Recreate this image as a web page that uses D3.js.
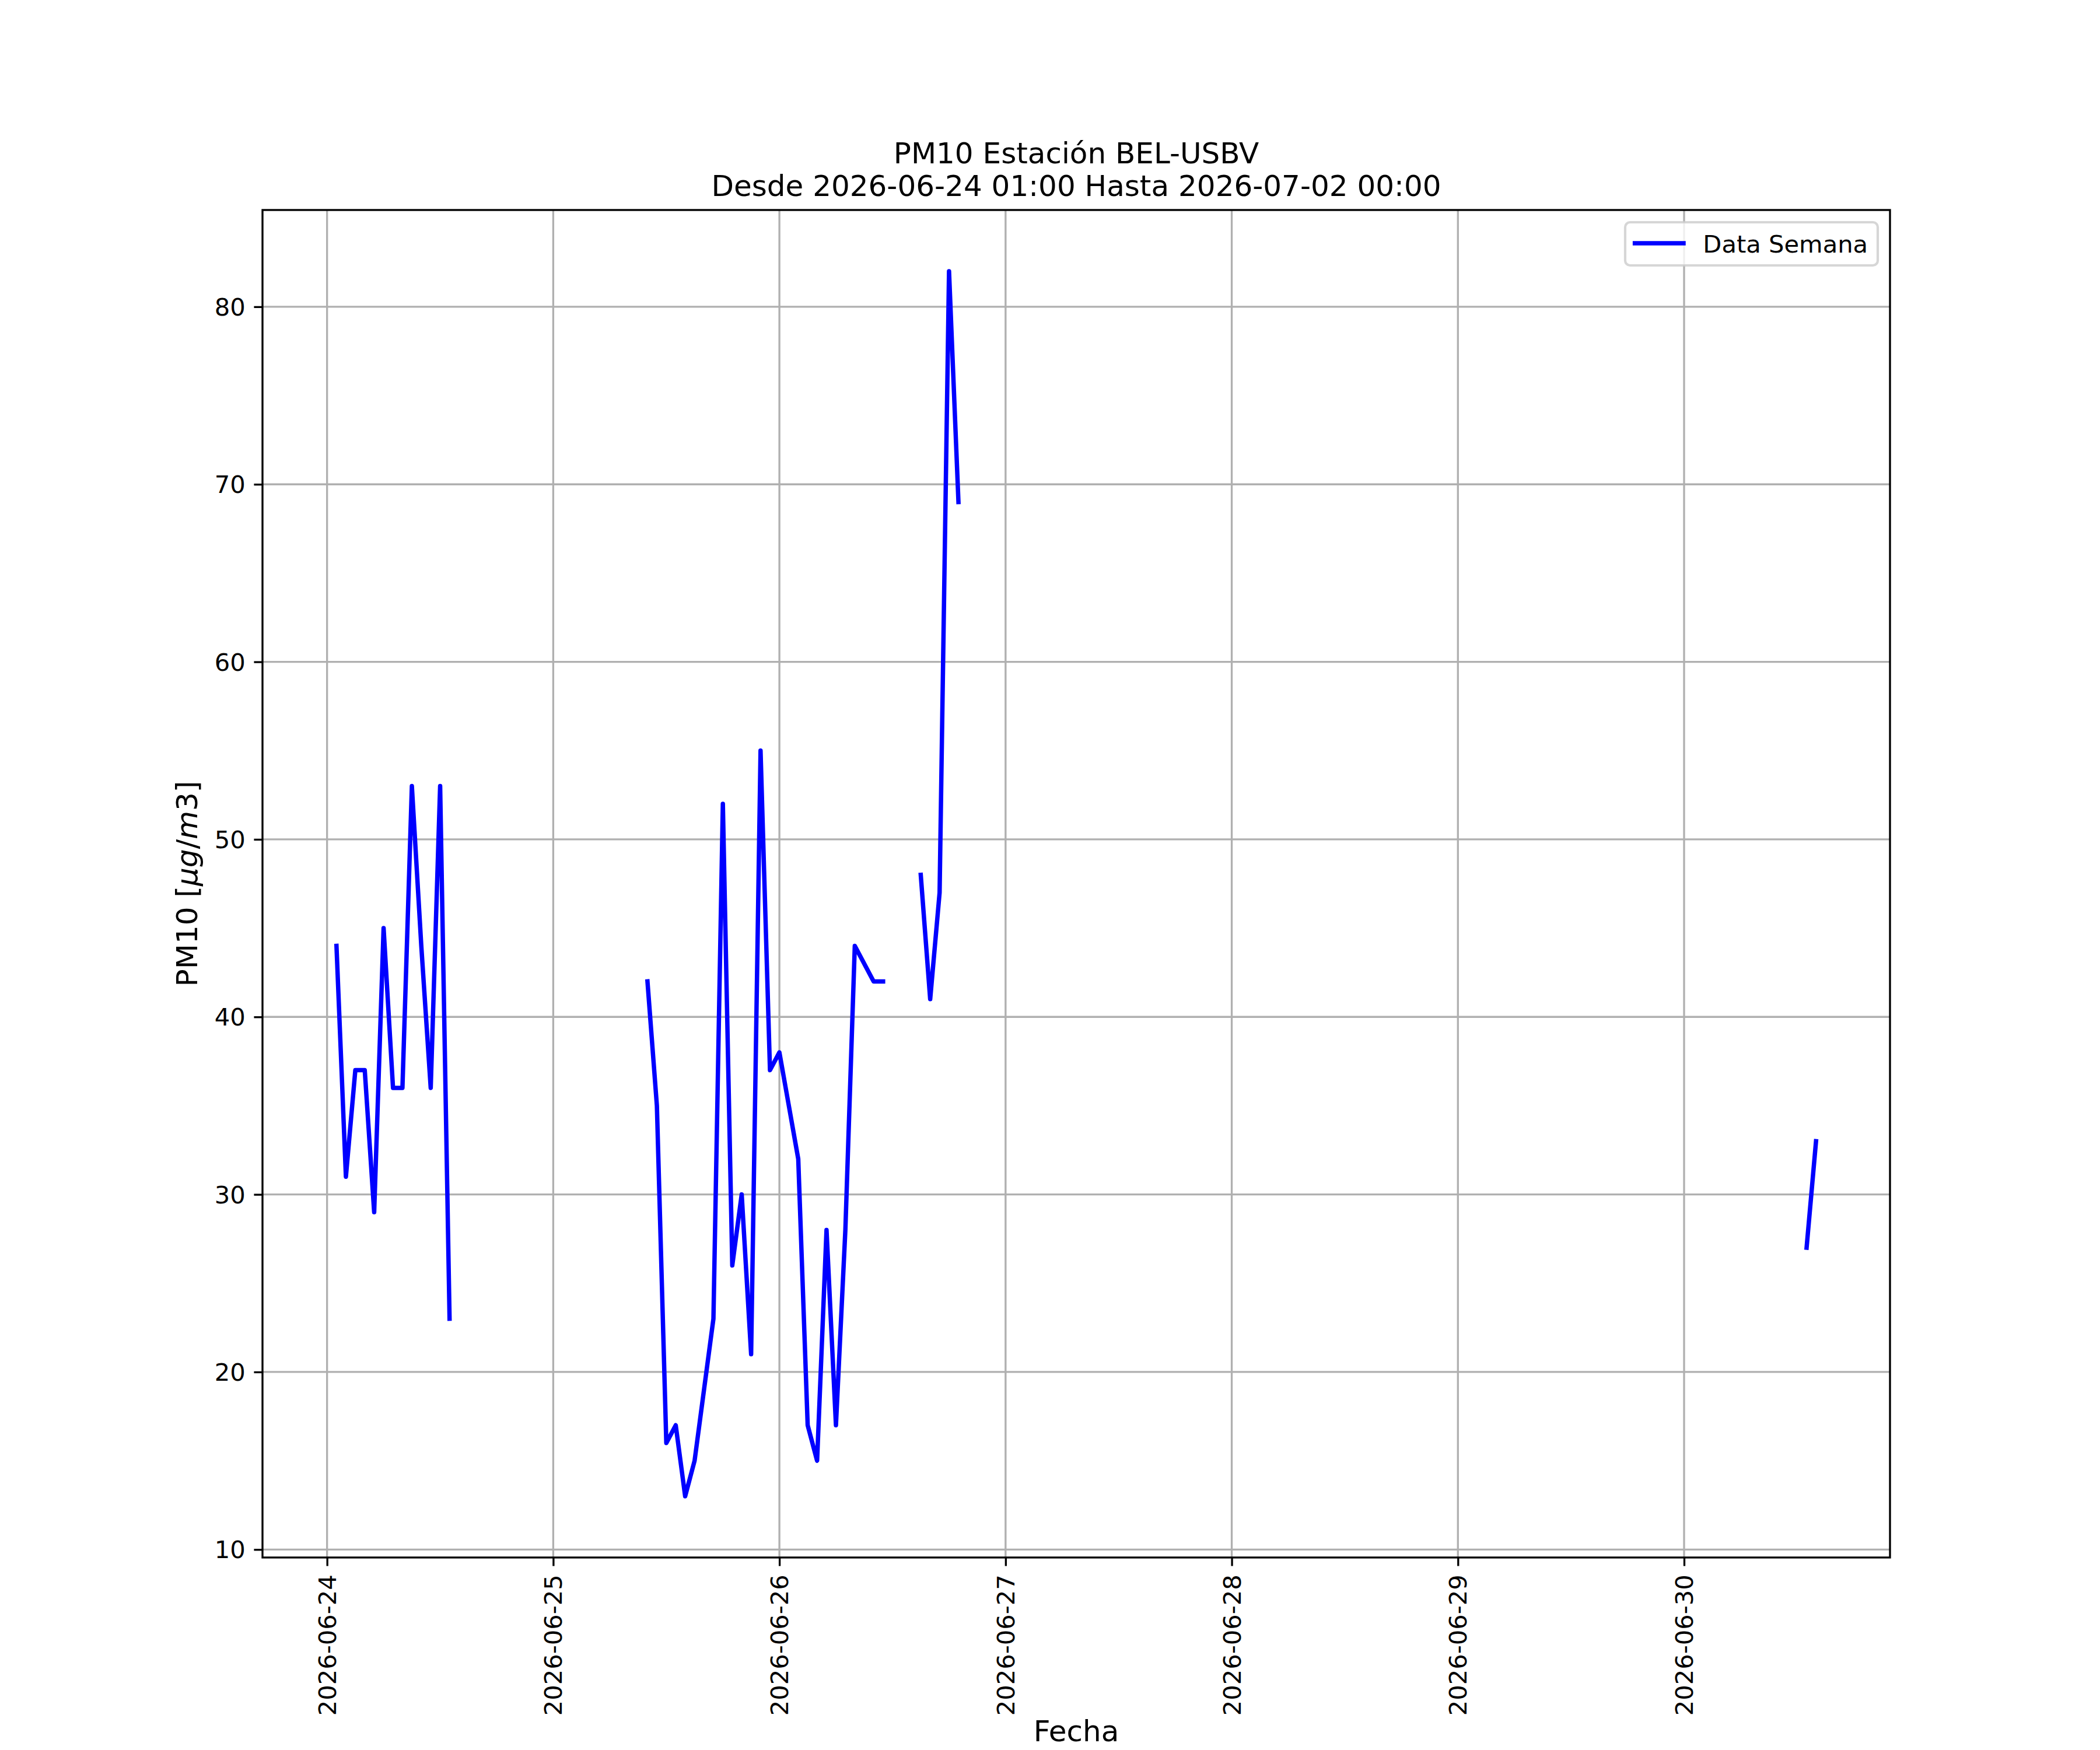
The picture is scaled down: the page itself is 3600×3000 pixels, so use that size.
<!DOCTYPE html>
<html>
<head>
<meta charset="utf-8">
<script src="https://cdn.jsdelivr.net/npm/d3@7"></script>
<style>
  html, body { margin: 0; padding: 0; background: #ffffff; }
  svg { display: block; }
  text { font-family: "DejaVu Sans", sans-serif; fill: #000; }
</style>
</head>
<body>
<script>
// ---------------- DATA (hourly PM10, gaps = missing hours) ----------------
const titleLines = ["PM10 Estación BEL-USBV", "Desde 2026-06-24 01:00 Hasta 2026-07-02 00:00"];
const xLabel = "Fecha";
const legendLabel = "Data Semana";

const segmentStarts = ["2026-06-24T01:00:00Z", "2026-06-25T10:00:00Z", "2026-06-26T15:00:00Z", "2026-06-30T13:00:00Z"];
const seg1Values = [44, 31, 37, 37, 29, 45, 36, 36, 53, 44, 36, 53, 23];
const seg2Values = [42, 35, 16, 17, 13, 15, 19, 23, 52, 26, 30, 21, 55, 37, 38, 35, 32, 17, 15, 28, 17, 28, 44, 43, 42, 42];
const seg3Values = [48, 41, 47, 82, 69];
const seg4Values = [27, 33];
const yTickValues = [10, 20, 30, 40, 50, 60, 70, 80];

// ---------------- LAYOUT ----------------
const W = 3600, H = 3000;
const pt = 300 / 72; // dpi 300
const M = { left: 450, right: 3240, top: 360, bottom: 2670 };

const HOUR = 3600 * 1000;
const segments = [seg1Values, seg2Values, seg3Values, seg4Values].map((vals, i) => {
  const t0 = new Date(segmentStarts[i]).getTime();
  return vals.map((v, j) => ({ t: new Date(t0 + j * HOUR), v }));
});
// build a continuous hourly series with missing hours as null
const allPts = segments.flat();
const tMin = d3.min(allPts, d => d.t.getTime());
const tMax = d3.max(allPts, d => d.t.getTime());
const byTime = new Map(allPts.map(d => [d.t.getTime(), d.v]));
const series = [];
for (let t = tMin; t <= tMax; t += HOUR) series.push({ t: new Date(t), v: byTime.has(t) ? byTime.get(t) : null });

const xPad = (tMax - tMin) * 0.05;
const x = d3.scaleUtc().domain([new Date(tMin - xPad), new Date(tMax + xPad)]).range([M.left, M.right]);
const vMin = d3.min(allPts, d => d.v), vMax = d3.max(allPts, d => d.v);
const yPad = (vMax - vMin) * 0.05;
const y = d3.scaleLinear().domain([vMin - yPad, vMax + yPad]).range([M.bottom, M.top]);

const svg = d3.select("body").append("svg").attr("width", W).attr("height", H);
svg.append("rect").attr("width", W).attr("height", H).attr("fill", "#fff");

const xTicks = d3.utcDay.range(d3.utcDay.ceil(x.domain()[0]), x.domain()[1]);
const fmt = d3.utcFormat("%Y-%m-%d");
const tickLen = 3.5 * pt, tickPad = 3.5 * pt;
const gridW = 0.8 * pt;

// grid
const grid = svg.append("g");
grid.selectAll(".gx").data(xTicks).join("line")
  .attr("x1", d => x(d)).attr("x2", d => x(d)).attr("y1", M.top).attr("y2", M.bottom)
  .attr("stroke", "#b0b0b0").attr("stroke-width", gridW);
grid.selectAll(".gy").data(yTickValues).join("line")
  .attr("x1", M.left).attr("x2", M.right).attr("y1", d => y(d)).attr("y2", d => y(d))
  .attr("stroke", "#b0b0b0").attr("stroke-width", gridW);

// data line
svg.append("defs").append("clipPath").attr("id", "clip")
  .append("rect").attr("x", M.left).attr("y", M.top).attr("width", M.right - M.left).attr("height", M.bottom - M.top);
const line = d3.line().defined(d => d.v !== null).x(d => x(d.t)).y(d => y(d.v));
svg.append("path").datum(series).attr("clip-path", "url(#clip)")
  .attr("d", line).attr("fill", "none").attr("stroke", "#0000ff")
  .attr("stroke-width", 7.5).attr("stroke-linejoin", "round").attr("stroke-linecap", "square");

// axes via d3.axis
const xAxis = d3.axisBottom(x).tickValues(xTicks).tickFormat(fmt).tickSize(tickLen).tickPadding(tickPad);
const gx = svg.append("g").attr("transform", `translate(0,${M.bottom})`).call(xAxis);
gx.select(".domain").remove();
gx.selectAll(".tick line").attr("stroke", "#000").attr("stroke-width", gridW);
gx.selectAll(".tick text")
  .attr("font-size", 10 * pt).attr("font-family", "DejaVu Sans")
  .attr("x", 0).attr("y", 0).attr("dy", null)
  .attr("text-anchor", "end").attr("dominant-baseline", "central")
  .attr("transform", `translate(0,${tickLen + tickPad}) rotate(-90)`);

const yAxis = d3.axisLeft(y).tickValues(yTickValues).tickFormat(d3.format("d")).tickSize(tickLen).tickPadding(tickPad);
const gy = svg.append("g").attr("transform", `translate(${M.left},0)`).call(yAxis);
gy.select(".domain").remove();
gy.selectAll(".tick line").attr("stroke", "#000").attr("stroke-width", gridW);
gy.selectAll(".tick text").attr("font-size", 10 * pt).attr("font-family", "DejaVu Sans")
  .attr("dy", null).attr("dominant-baseline", "central");

// spines
svg.append("rect").attr("x", M.left).attr("y", M.top).attr("width", M.right - M.left).attr("height", M.bottom - M.top)
  .attr("fill", "none").attr("stroke", "#000").attr("stroke-width", gridW);

// title
const cx = (M.left + M.right) / 2;
svg.append("text").attr("x", cx).attr("y", 280).attr("text-anchor", "middle").attr("font-size", 12 * pt).text(titleLines[0]);
svg.append("text").attr("x", cx).attr("y", 336).attr("text-anchor", "middle").attr("font-size", 12 * pt).text(titleLines[1]);

// x label
svg.append("text").attr("x", cx).attr("y", 2985).attr("text-anchor", "middle").attr("font-size", 12 * pt).text(xLabel);

// y label with math-italic part
const yl = svg.append("text").attr("transform", `translate(338,${(M.top + M.bottom) / 2}) rotate(-90)`)
  .attr("text-anchor", "middle").attr("font-size", 12 * pt);
yl.append("tspan").text("PM10 [");
yl.append("tspan").attr("font-style", "italic").text("μg");
yl.append("tspan").text("/");
yl.append("tspan").attr("font-style", "italic").text("m");
yl.append("tspan").text("3]");

// legend
const lg = svg.append("g");
const lx = 2786, ly = 381, lw = 433, lh = 74;
lg.append("rect").attr("x", lx).attr("y", ly).attr("width", lw).attr("height", lh).attr("rx", 0.2 * 10 * pt)
  .attr("fill", "#fff").attr("fill-opacity", 0.8).attr("stroke", "#cccccc").attr("stroke-opacity", 0.8).attr("stroke-width", 1 * pt);
lg.append("line").attr("x1", lx + 0.4 * 10 * pt).attr("x2", lx + 0.4 * 10 * pt + 2 * 10 * pt)
  .attr("y1", ly + lh / 2 - 1).attr("y2", ly + lh / 2 - 1)
  .attr("stroke", "#0000ff").attr("stroke-width", 7.5).attr("stroke-linecap", "square");
lg.append("text").attr("x", lx + 0.4 * 10 * pt + 2 * 10 * pt + 0.8 * 10 * pt).attr("y", ly + lh / 2)
  .attr("dominant-baseline", "central").attr("font-size", 10 * pt).text(legendLabel);
</script>
</body>
</html>
